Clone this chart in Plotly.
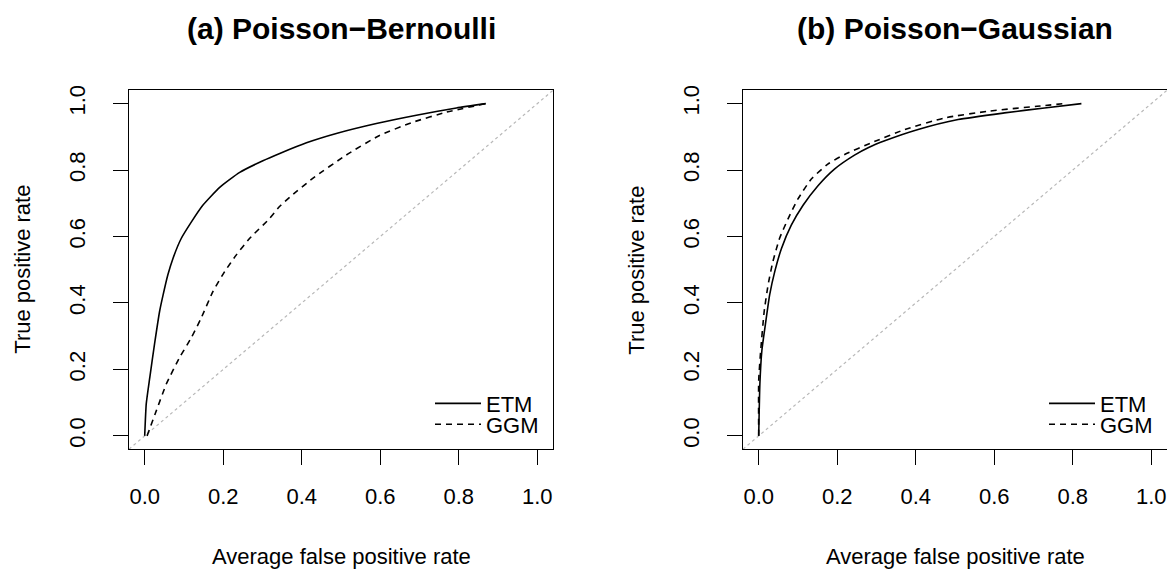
import plotly.graph_objects as go

# ---- data ----
etm_a_x = [0.0, 0.004, 0.013, 0.025, 0.038, 0.047, 0.059, 0.072, 0.093, 0.119, 0.148, 0.191, 0.242, 0.301, 0.344, 0.412, 0.488, 0.590, 0.692, 0.794, 0.869]
etm_a_y = [0.0, 0.097, 0.176, 0.276, 0.375, 0.425, 0.485, 0.534, 0.594, 0.644, 0.694, 0.748, 0.793, 0.828, 0.850, 0.882, 0.910, 0.940, 0.965, 0.987, 1.0]
ggm_a_x = [0.006, 0.030, 0.055, 0.089, 0.119, 0.144, 0.174, 0.204, 0.233, 0.267, 0.318, 0.344, 0.369, 0.428, 0.513, 0.598, 0.683, 0.768, 0.869]
ggm_a_y = [0.0, 0.077, 0.156, 0.236, 0.296, 0.355, 0.435, 0.495, 0.544, 0.594, 0.654, 0.691, 0.718, 0.775, 0.845, 0.904, 0.944, 0.974, 1.0]

etm_b_x = [0.0, 0.003, 0.008, 0.017, 0.028, 0.041, 0.058, 0.083, 0.113, 0.151, 0.193, 0.244, 0.280, 0.321, 0.406, 0.508, 0.626, 0.728, 0.822]
etm_b_y = [0.0, 0.156, 0.256, 0.335, 0.425, 0.495, 0.564, 0.634, 0.694, 0.753, 0.803, 0.845, 0.868, 0.888, 0.922, 0.952, 0.972, 0.987, 1.0]
ggm_b_x = [0.0, 0.0, 0.005, 0.014, 0.024, 0.036, 0.053, 0.075, 0.100, 0.134, 0.176, 0.219, 0.287, 0.372, 0.474, 0.584, 0.709, 0.779]
ggm_b_y = [0.0, 0.166, 0.256, 0.375, 0.455, 0.524, 0.594, 0.654, 0.713, 0.773, 0.818, 0.847, 0.882, 0.922, 0.957, 0.977, 0.992, 1.0]

tick_vals = [0.0, 0.2, 0.4, 0.6, 0.8, 1.0]
tick_text = ["0.0", "0.2", "0.4", "0.6", "0.8", "1.0"]
titles = ["(a) Poisson\u2212Bernoulli", "(b) Poisson\u2212Gaussian"]
series_names = ["ETM", "GGM"]
x_title = "Average false positive rate"
y_title = "True positive rate"

W, H = 1175, 573
OFF = 8  # page body margin offset
FONT = "Liberation Sans, Arial, Helvetica, sans-serif"
FS = 22

fig = go.Figure()

LW = 1.6
DASH = "6px,5px"
SM = 0.5
fig.add_trace(go.Scatter(x=etm_a_x, y=etm_a_y, mode="lines", name=series_names[0],
                         line=dict(color="black", width=LW, shape="spline", smoothing=SM),
                         xaxis="x", yaxis="y", legend="legend"))
fig.add_trace(go.Scatter(x=ggm_a_x, y=ggm_a_y, mode="lines", name=series_names[1],
                         line=dict(color="black", width=LW, dash=DASH, shape="spline", smoothing=SM),
                         xaxis="x", yaxis="y", legend="legend2"))
fig.add_trace(go.Scatter(x=etm_b_x, y=etm_b_y, mode="lines", name=series_names[0],
                         line=dict(color="black", width=LW, shape="spline", smoothing=SM),
                         xaxis="x2", yaxis="y2", legend="legend3"))
fig.add_trace(go.Scatter(x=ggm_b_x, y=ggm_b_y, mode="lines", name=series_names[1],
                         line=dict(color="black", width=LW, dash=DASH, shape="spline", smoothing=SM),
                         xaxis="x2", yaxis="y2", legend="legend4"))

# plot box positions (page pixels in the reference)
boxes = [(129, 553), (743, 1167)]
top, bottom = 86, 448


def px(v):
    return (v - OFF) / W


def py(v):
    return 1 - (v - OFF) / H


ydom = [py(bottom), py(top)]

rng = [-0.04, 1.04]
common = dict(range=rng, showgrid=False, zeroline=False, showline=True, linecolor="black",
              linewidth=1.3, mirror=True, ticks="outside", ticklen=15, tickwidth=1.3,
              tickcolor="black", tickvals=tick_vals, ticktext=tick_text,
              tickfont=dict(family=FONT, size=FS, color="black"), fixedrange=True)

layout = dict(width=W, height=H, margin=dict(l=0, r=0, t=0, b=0),
              paper_bgcolor="white", plot_bgcolor="white",
              font=dict(family=FONT, size=FS, color="black"))
for i, (l, r) in enumerate(boxes):
    sfx = "" if i == 0 else str(i + 1)
    layout["xaxis" + sfx] = dict(common, domain=[px(l), px(r)], anchor="y" + sfx, ticklabelstandoff=12)
    layout["yaxis" + sfx] = dict(common, domain=ydom, anchor="x" + sfx, tickangle=-90, ticklabelstandoff=19)

annotations = []
shapes = []
for i, (l, r) in enumerate(boxes):
    sfx = "" if i == 0 else str(i + 1)
    cx = px((l + r) / 2)
    annotations.append(dict(text="<b>" + titles[i] + "</b>", x=cx, y=py(24), xref="paper", yref="paper",
                            showarrow=False, xanchor="center", yanchor="middle",
                            font=dict(family=FONT, size=30, color="black")))
    annotations.append(dict(text=x_title, x=cx, y=py(556), xref="paper", yref="paper",
                            showarrow=False, xanchor="center", yanchor="middle",
                            font=dict(family=FONT, size=FS, color="black")))
    annotations.append(dict(text=y_title, x=px(l - 106), y=py((top + bottom) / 2), xref="paper", yref="paper",
                            showarrow=False, xanchor="center", yanchor="middle", textangle=-90,
                            font=dict(family=FONT, size=FS, color="black")))
    shapes.append(dict(type="line", xref="x" + sfx + " domain", yref="y" + sfx + " domain",
                       x0=0, y0=0, x1=1, y1=1, line=dict(color="#b8b8b8", width=1.2, dash="dot"), layer="below"))
    for j, rowy in enumerate([402, 423]):
        key = "legend" if (i * 2 + j) == 0 else "legend" + str(i * 2 + j + 1)
        layout[key] = dict(x=px(r - 123), y=py(rowy), xanchor="left", yanchor="middle",
                           bgcolor="rgba(0,0,0,0)", borderwidth=0,
                           font=dict(family=FONT, size=FS, color="black"), itemwidth=46)

fig.update_layout(**layout)
fig.update_layout(annotations=annotations, shapes=shapes, showlegend=True)
fig.write_html("out.html")
